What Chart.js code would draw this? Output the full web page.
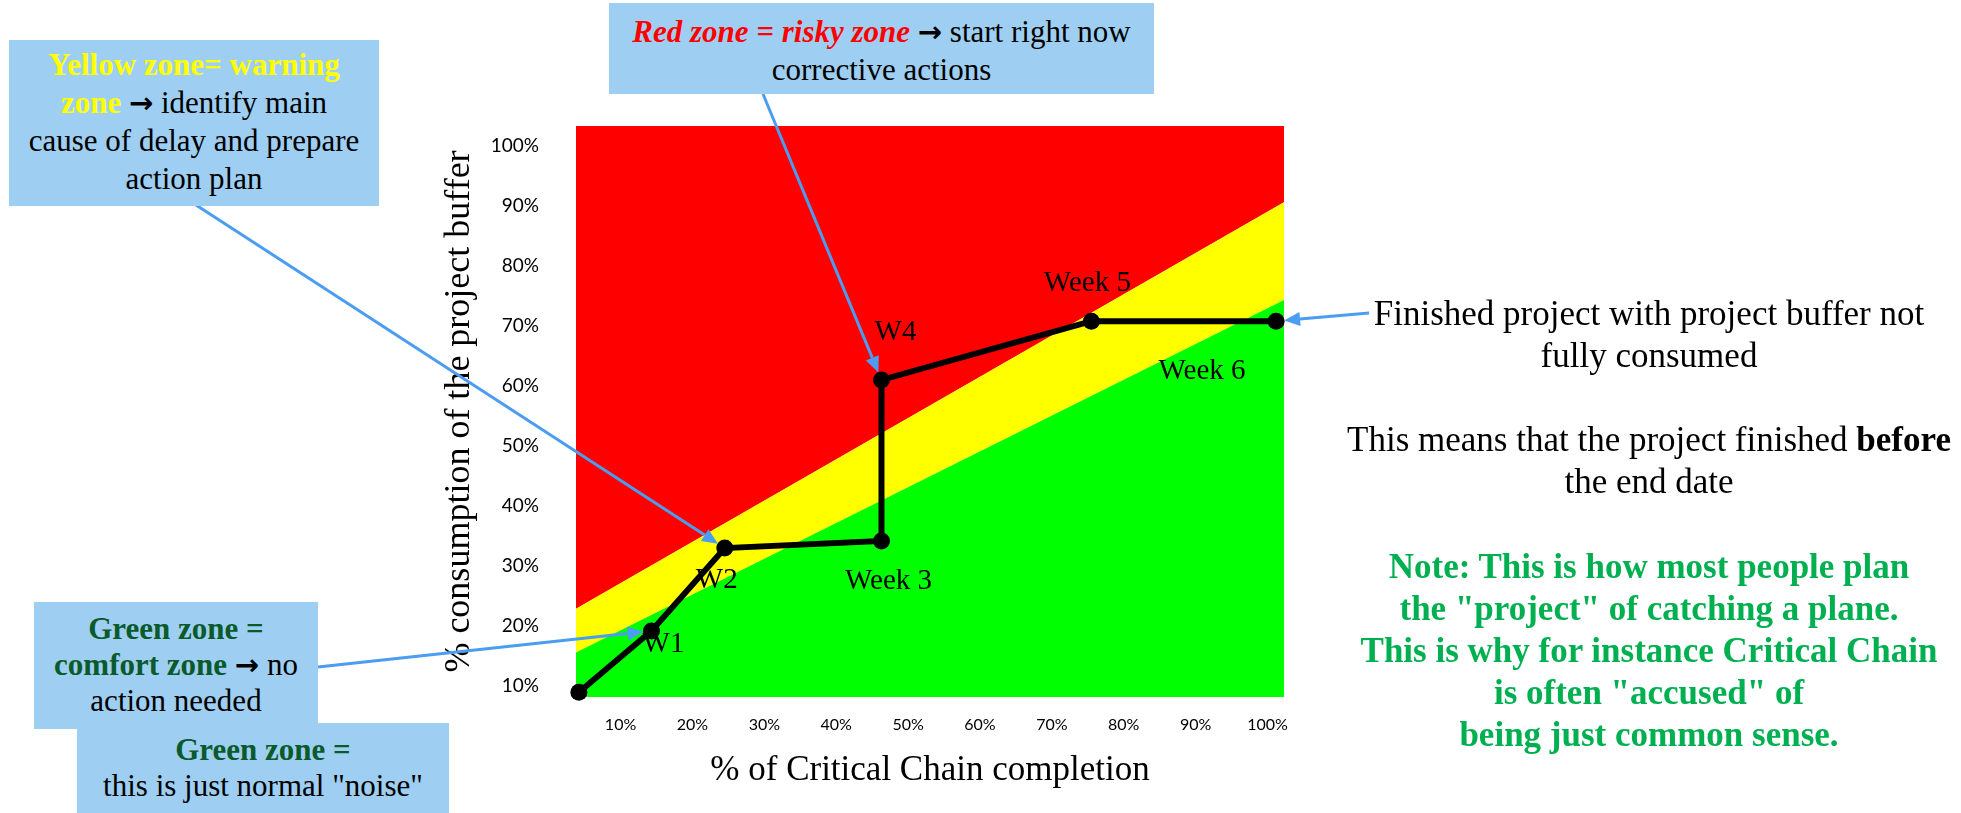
<!DOCTYPE html>
<html>
<head>
<meta charset="utf-8">
<script src="https://cdn.jsdelivr.net/npm/chart.js@4.4.1/dist/chart.umd.min.js"></script>
<style>
  html, body { margin:0; padding:0; background:#fff; }
  #page { position:relative; width:1961px; height:813px; overflow:hidden; }
  #c { position:absolute; left:0; top:0; }
  .box { position:absolute; background:#9ecff2; text-align:center; box-sizing:border-box;
         font-family:"Liberation Serif","Times New Roman",serif; font-size:31px; line-height:37px;
         color:#000; white-space:nowrap; }
  .side { position:absolute; left:1249px; width:800px; text-align:center; white-space:nowrap;
          font-family:"Liberation Serif","Times New Roman",serif; font-size:35px; line-height:42px; color:#000; }
  .yel { color:#ffff00; font-weight:bold; }
  .red { color:#ff0000; font-weight:bold; font-style:italic; }
  .dkg { color:#0b5a2c; font-weight:bold; }
  .note { color:#00b050; font-weight:bold; }
  .arr { font-family:"DejaVu Sans",sans-serif; font-weight:bold; font-size:29px; }
</style>
</head>
<body>
<div id="page">
  <canvas id="c" width="1961" height="813"></canvas>

  <div class="box" style="left:9px;top:40px;width:370px;height:166px;padding-top:6px;line-height:38px;">
    <span class="yel">Yellow zone= warning</span><br>
    <span class="yel">zone</span> <span class="arr">→</span> identify main<br>
    cause of delay and prepare<br>
    action plan
  </div>

  <div class="box" style="left:609px;top:3px;width:545px;height:91px;padding-top:10px;">
    <span class="red">Red zone = risky zone</span> <span class="arr">→</span> start right now<br>
    corrective actions
  </div>

  <div class="box" style="left:34px;top:602px;width:284px;height:127px;padding-top:9px;line-height:36px;">
    <span class="dkg">Green zone =</span><br>
    <span class="dkg">comfort zone</span> <span class="arr">→</span> no<br>
    action needed
  </div>

  <div class="box" style="left:77px;top:723px;width:372px;height:95px;padding-top:9px;line-height:36px;">
    <span class="dkg">Green zone =</span><br>
    this is just normal "noise"
  </div>

  <div class="side" style="top:293px;">Finished project with project buffer not<br>fully consumed</div>
  <div class="side" style="top:419px;">This means that the project finished <b>before</b><br>the end date</div>
  <div class="side note" style="top:546px;">Note: This is how most people plan<br>the "project" of catching a plane.<br>This is why for instance Critical Chain<br>is often "accused" of<br>being just common sense.</div>
</div>

<script>
// Axes : % d'avancement de la chaîne critique (x), % de buffer consommé (y)
const xTicks = [10, 20, 30, 40, 50, 60, 70, 80, 90, 100];
const yTicks = [10, 20, 30, 40, 50, 60, 70, 80, 90, 100];
const xRange = [3.8, 102.3];
const yRange = [8.2, 103.3];

// Suivi hebdomadaire du projet
const progressX   = [4.2, 14.3, 24.5, 46.3, 46.3, 75.5, 101.2];
const bufferY     = [9, 19.2, 33, 34.2, 61, 70.8, 70.8];
const pointLabels = ['', 'W1', 'W2', 'Week 3', 'W4', 'Week 5', 'Week 6'];

// Limites des zones : droites lues aux deux bords du graphe
const zoneX       = [3.8, 102.3];
const greenUpper  = [15.6, 74.3];
const yellowUpper = [22.9, 90.6];

// Décalage (px) de chaque étiquette par rapport à son point
const labelOffsets = [[0,0], [12,13], [-8,32], [7,40], [14,-48], [-4,-38], [-74,50]];
// Flèches bleues : départ (px, bord de l'encadré) -> index du point visé
const callouts = [
  { from:[196, 205], to:2 },
  { from:[763, 94],  to:4 },
  { from:[318, 667], to:1 },
  { from:[1369, 313], to:6 },
];

const SERIF = '"Liberation Serif","Times New Roman",serif';
const pts = (xs, ys) => xs.map((x, i) => ({ x, y: ys[i] }));

// Étiquettes des semaines, sous le tracé noir
const weekLabels = { id:'weekLabels', beforeDatasetDraw(chart, args) {
  if (args.index !== 0) return;
  const { ctx, scales: { x, y } } = chart;
  ctx.save();
  ctx.font = '29px ' + SERIF;
  ctx.fillStyle = '#000';
  ctx.textAlign = 'center'; ctx.textBaseline = 'middle';
  pointLabels.forEach((t, i) => {
    if (!t) return;
    const [dx, dy] = labelOffsets[i];
    ctx.fillText(t, x.getPixelForValue(progressX[i]) + dx, y.getPixelForValue(bufferY[i]) + dy);
  });
  ctx.restore();
}};

// Flèches des encadrés vers les points
const arrows = { id:'arrows', afterDraw(chart) {
  const { ctx, scales: { x, y } } = chart;
  ctx.save();
  ctx.strokeStyle = '#4a9df0'; ctx.fillStyle = '#4a9df0';
  ctx.lineWidth = 3;
  callouts.forEach(c => {
    const [x0, y0] = c.from;
    const px = x.getPixelForValue(progressX[c.to]), py = y.getPixelForValue(bufferY[c.to]);
    const ang = Math.atan2(py - y0, px - x0);
    const x1 = px - 8 * Math.cos(ang), y1 = py - 8 * Math.sin(ang);
    const head = 16, half = 7;
    const bx = x1 - head * Math.cos(ang), by = y1 - head * Math.sin(ang);
    ctx.beginPath(); ctx.moveTo(x0, y0); ctx.lineTo(bx, by); ctx.stroke();
    ctx.beginPath(); ctx.moveTo(x1, y1);
    ctx.lineTo(bx + half * Math.sin(ang), by - half * Math.cos(ang));
    ctx.lineTo(bx - half * Math.sin(ang), by + half * Math.cos(ang));
    ctx.closePath(); ctx.fill();
  });
  ctx.restore();
}};

new Chart(document.getElementById('c').getContext('2d'), {
  type: 'line',
  data: {
    datasets: [
      { data: pts(progressX, bufferY), borderColor:'#000', borderWidth:6,
        pointRadius:8.5, pointBackgroundColor:'#000', pointBorderWidth:0, fill:false, clip:false },
      { data: pts(zoneX, greenUpper), borderWidth:0, pointRadius:0, fill:'start', backgroundColor:'#00ff00' },
      { data: pts(zoneX, yellowUpper), borderWidth:0, pointRadius:0, fill:'-1', backgroundColor:'#ffff00' },
      { data: pts(zoneX, yellowUpper), borderWidth:0, pointRadius:0, fill:'end', backgroundColor:'#ff0000' },
    ]
  },
  options: {
    responsive: false,
    animation: false,
    events: [],
    layout: { padding: { left: 438, top: 126, right: 677, bottom: 16 } },
    plugins: { legend: { display:false }, tooltip: { enabled:false } },
    scales: {
      x: {
        type: 'linear', min: xRange[0], max: xRange[1],
        grid: { display:false, drawTicks:false }, border: { display:false },
        afterBuildTicks: a => { a.ticks = xTicks.map(v => ({ value: v })); },
        afterFit: s => { s.height = 100; },
        ticks: { callback: v => v + '%', color:'#000', padding:18, autoSkip:false, maxRotation:0,
                 font: { family:'Lato', size:16 } },
        title: { display:true, text:'% of Critical Chain completion', color:'#000',
                 padding: { top:0, bottom:5 }, font: { family: SERIF, size:35 } }
      },
      y: {
        type: 'linear', min: yRange[0], max: yRange[1],
        grid: { display:false, drawTicks:false }, border: { display:false },
        afterBuildTicks: a => { a.ticks = yTicks.map(v => ({ value: v })); },
        afterFit: s => { s.width = 138; },
        ticks: { callback: v => v + '%', color:'#000', padding:37, autoSkip:false,
                 font: { family:'Lato', size:19 } },
        title: { display:true, text:'% consumption of the project buffer', color:'#000',
                 padding: { top:0, bottom:0 }, font: { family: SERIF, size:36 } }
      }
    }
  },
  plugins: [weekLabels, arrows]
});
</script>
</body>
</html>
